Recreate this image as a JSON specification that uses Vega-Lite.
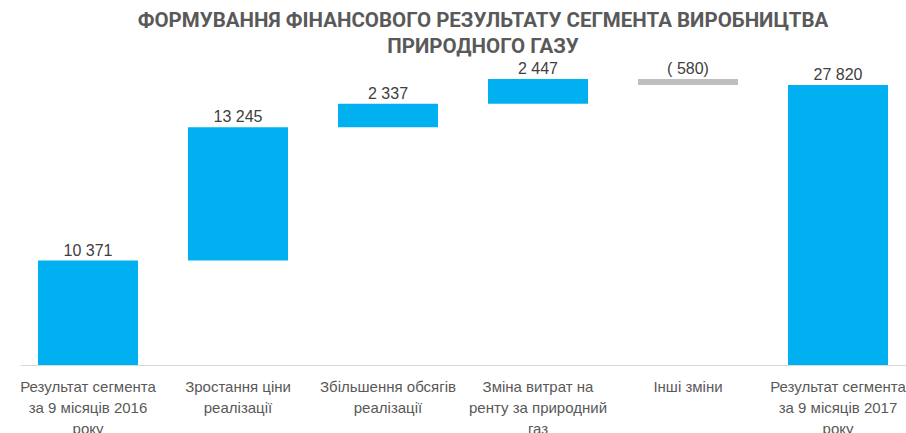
{
  "$schema": "https://vega.github.io/schema/vega-lite/v6.json",
  "autosize": "none",
  "width": 886,
  "height": 302,
  "padding": {"left": 20, "top": 63, "right": 0, "bottom": 68},
  "background": "white",
  "title": {
    "text": ["ФОРМУВАННЯ ФІНАНСОВОГО РЕЗУЛЬТАТУ СЕГМЕНТА ВИРОБНИЦТВА", "ПРИРОДНОГО ГАЗУ"],
    "font": "Roboto",
    "fontSize": 20.5,
    "fontWeight": "bold",
    "color": "#595959",
    "lineHeight": 26,
    "anchor": "middle",
    "dx": 20,
    "offset": 4
  },
  "data": {
    "values": [
      {"category": "Результат сегмента|за 9 місяців 2016|року", "lo": 0, "hi": 10371, "label": "10 371", "kind": "total"},
      {"category": "Зростання ціни|реалізації", "lo": 10371, "hi": 23616, "label": "13 245", "kind": "up"},
      {"category": "Збільшення обсягів|реалізації", "lo": 23616, "hi": 25953, "label": "2 337", "kind": "up"},
      {"category": "Зміна витрат на|ренту за природний|газ", "lo": 25953, "hi": 28400, "label": "2 447", "kind": "up"},
      {"category": "Інші зміни", "lo": 27820, "hi": 28400, "label": "( 580)", "kind": "down"},
      {"category": "Результат сегмента|за 9 місяців 2017|року", "lo": 0, "hi": 27820, "label": "27 820", "kind": "total"}
    ]
  },
  "encoding": {
    "x": {
      "field": "category",
      "type": "nominal",
      "sort": null,
      "scale": {"paddingInner": 0.3333, "paddingOuter": 0.12},
      "axis": {
        "title": null,
        "labelAngle": 0,
        "labelExpr": "split(datum.label, '|')",
        "labelFont": "Liberation Sans",
        "labelFontSize": 15,
        "labelColor": "#595959",
        "labelLineHeight": 21,
        "labelPadding": 14,
        "ticks": false,
        "domainColor": "#D9D9D9",
        "domainWidth": 1,
        "labelLimit": 200
      }
    }
  },
  "layer": [
    {
      "mark": {"type": "bar"},
      "encoding": {
        "y": {"field": "lo", "type": "quantitative", "scale": {"domain": [0, 30000], "nice": false}, "axis": null},
        "y2": {"field": "hi"},
        "color": {
          "field": "kind",
          "type": "nominal",
          "scale": {"domain": ["total", "up", "down"], "range": ["#00B0F0", "#00B0F0", "#BFBFBF"]},
          "legend": null
        }
      }
    },
    {
      "mark": {"type": "text", "baseline": "alphabetic", "dy": -5, "font": "Liberation Sans", "fontSize": 16, "color": "#404040"},
      "encoding": {
        "y": {"field": "hi", "type": "quantitative"},
        "text": {"field": "label"}
      }
    }
  ],
  "config": {"view": {"stroke": null}}
}
